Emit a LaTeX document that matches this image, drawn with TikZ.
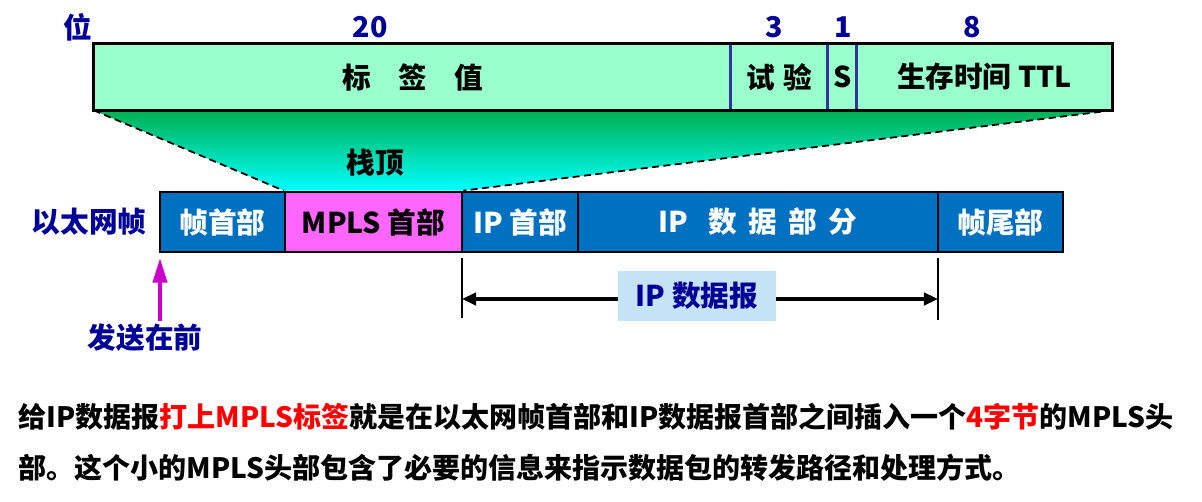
\documentclass[tikz,border=0pt]{standalone}
\usepackage{fontspec}
\setmainfont{Noto Sans CJK SC}
\usetikzlibrary{arrows.meta,backgrounds}
\definecolor{topfill}{HTML}{99FFCC}
\definecolor{frameblue}{HTML}{0070C0}
\definecolor{mplspink}{HTML}{FF66FF}
\definecolor{navytext}{HTML}{000099}
\definecolor{divblue}{HTML}{333399}
\definecolor{shadegreen}{HTML}{00B050}
\definecolor{shadecyan}{HTML}{00FFFF}
\definecolor{lblblue}{HTML}{C5E3F7}
\definecolor{sendmag}{HTML}{CC00CC}
\definecolor{redtext}{HTML}{FF0000}
\begin{document}
\begin{tikzpicture}[x=0.02cm,y=-0.02cm,
  every node/.style={font=\bfseries\fontsize{16.3pt}{19pt}\selectfont, inner sep=0pt},
  fieldtop/.style={minimum height=1.32cm, fill=topfill},
  framebox/.style={draw=black, line width=1.6pt, minimum height=1.2cm, fill=frameblue, text=white},
  navylabel/.style={text=navytext},
  divider/.style={draw=divblue, line width=1.4pt},
  outline/.style={draw=black, line width=1.6pt},
  guide/.style={draw=black, dashed, dash pattern=on 4pt off 2.5pt, line width=1pt},
  tick/.style={draw=black, line width=1pt},
  dimarrow/.style={draw=black, line width=2.2pt, -{Triangle[length=8pt,width=7pt]}},
  sendarrow/.style={draw=sendmag, line width=2.2pt, -{Triangle[length=14pt,width=8pt]}},
  sentence/.style={anchor=west, font=\bfseries\fontsize{15.95pt}{18pt}\selectfont}
]
\useasboundingbox (0,0) rectangle (1202,502);

% bit counts
\node[navylabel] (wei) at (78,27) {位};
\node[navylabel] (n20) at (370,27) {20};
\node[navylabel] (n3) at (774,27) {3};
\node[navylabel] (n1) at (843,27) {1};
\node[navylabel] (n8) at (972,27) {8};

% top label fields
\node[fieldtop, minimum width=12.76cm] (lbl) at (413,77) {标\hspace{0.95em}签\hspace{0.95em}值};
\node[fieldtop, minimum width=1.94cm] (exp) at (779.5,77) {试\hspace{0.3em}验};
\node[fieldtop, minimum width=0.58cm] (sbit) at (842.5,77) {S};
\node[fieldtop, minimum width=5.1cm] (ttl) at (984.5,77) {生存时间 TTL};
\draw[divider] (exp.north west) -- (exp.south west);
\draw[divider] (sbit.north west) -- (sbit.south west);
\draw[divider] (ttl.north west) -- (ttl.south west);
\draw[outline] (lbl.north west) rectangle (ttl.south east);

% ethernet frame
\node[navylabel] (eth) at (89,222) {以太网帧};
\node[framebox, minimum width=2.5cm] (fh) at (222.5,222) {帧首部};
\node[framebox, minimum width=3.54cm, fill=mplspink, text=black] (mpls) at (373.5,222) {MPLS 首部};
\node[framebox, minimum width=2.32cm] (iph) at (520,222) {IP 首部};
\node[framebox, minimum width=7.2cm] (ipd) at (758,222) {IP\hspace{0.7em}数\hspace{0.4em}据\hspace{0.4em}部\hspace{0.4em}分};
\node[framebox, minimum width=2.5cm] (ft) at (1000.5,222) {帧尾部};

% gradient trapezoid
\begin{scope}[on background layer]
\shade[top color=shadegreen, bottom color=shadecyan]
  (lbl.south west) -- (ttl.south east) -- (mpls.north east) -- (mpls.north west) -- cycle;
\end{scope}
\draw[guide] (lbl.south west) -- (mpls.north west);
\draw[guide] (ttl.south east) -- (mpls.north east);
\node (top) at (375,163) {栈顶};

% IP datagram extent
\coordinate (v1a) at (462,258);
\coordinate (v1b) at (462,318);
\coordinate (v2a) at (938,258);
\coordinate (v2b) at (938,320);
\coordinate (al) at (462,299);
\coordinate (ar) at (938,299);
\draw[tick] (v1a) -- (v1b);
\draw[tick] (v2a) -- (v2b);
\node[fill=lblblue, minimum width=3.16cm, minimum height=1cm, navylabel] (dgram) at (697,296) {IP 数据报};
\draw[dimarrow] (dgram.west |- al) -- (al);
\draw[dimarrow] (dgram.east |- ar) -- (ar);

% send first
\coordinate (sendtail) at (160,321);
\coordinate (sendtip) at (160,258);
\draw[sendarrow] (sendtail) -- (sendtip);
\node[navylabel] (send) at (145,338) {发送在前};

% explanation
\node[sentence] (line1) at (18,417) {给IP数据报\textcolor{redtext}{打上MPLS标签}就是在以太网帧首部和IP数据报首部之间插入一个\textcolor{redtext}{4字节}的MPLS头};
\node[sentence] (line2) at (18,468) {部。这个小的MPLS头部包含了必要的信息来指示数据包的转发路径和处理方式。};
\end{tikzpicture}
\end{document}
